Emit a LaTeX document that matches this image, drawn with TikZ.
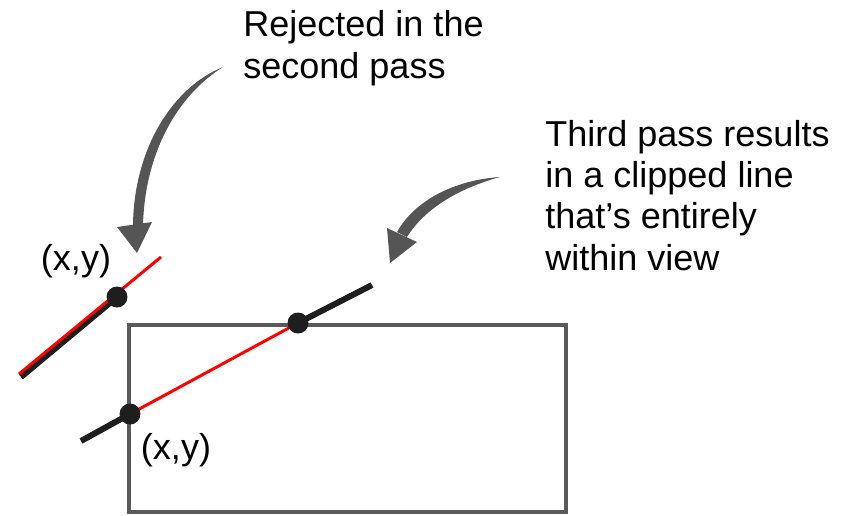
\documentclass[tikz,border=0pt]{standalone}
\usepackage{fontspec}
\setmainfont{Liberation Sans}
\usepackage{xcolor}
\definecolor{boxgray}{HTML}{5A5A5A}
\definecolor{arrowgray}{HTML}{555555}
\definecolor{dotblack}{HTML}{1E1E1E}
\definecolor{cliprd}{HTML}{FF0000}

\begin{document}
\begin{tikzpicture}[x=0.02cm,y=-0.02cm,
  note/.style={font=\fontsize{20.5}{23.5}\selectfont,inner sep=0pt,align=left,anchor=base west},
  ptlabel/.style={font=\fontsize{20.5}{23.5}\selectfont,inner sep=0pt,anchor=base},
  endpt/.style={circle,fill=dotblack,inner sep=0pt,minimum size=0.42cm},
  seg/.style={line width=0.12cm,dotblack},
  inside/.style={line width=0.06cm,cliprd}]
\useasboundingbox (0,0) rectangle (856,515);
% view window
\draw[boxgray,line width=0.07cm] (129,325) rectangle (566,512);
% line rejected in the second pass
\coordinate (ra) at (19,374);
\coordinate (rb) at (161,257);
\coordinate (r0) at (21,377);
\coordinate (rp) at (117,297);
\draw[seg] (r0) -- (rp);
\draw[inside] (ra) -- (rb);
% line clipped in the third pass
\coordinate (c0) at (81,441);
\coordinate (cp) at (130,414);
\coordinate (cq) at (298,323);
\coordinate (c1) at (372,285);
\draw[seg] (c0) -- (cp);
\draw[inside] (cp) -- (cq);
\draw[seg] (cq) -- (c1);
\node[endpt] (rdot) at (rp) {};
\node[endpt] (pdot) at (cp) {};
\node[endpt] (qdot) at (cq) {};
% texts
\node[note] (rejected) at (243,78) {Rejected in the\\second pass};
\node[note] (third) at (545,270) {Third pass results\\in a clipped line\\that’s entirely\\within view};
\node[ptlabel] (rlabel) at (76,270) {(x,y)};
\node[ptlabel] (plabel) at (176,459) {(x,y)};
% curved arrows
\fill[arrowgray] (223,67) .. controls (173,87) and (134,148) .. (133,225) -- (143,225) .. controls (145,152) and (178,95) .. (223,67) -- cycle;
\fill[arrowgray] (117,227) -- (152,222) -- (137,253) -- cycle;
\fill[arrowgray] (500,177) .. controls (455,180) and (415,200) .. (397,232) -- (407,237) .. controls (425,208) and (460,188) .. (500,177) -- cycle;
\fill[arrowgray] (387,228) -- (417,242) -- (390,263) -- cycle;
\end{tikzpicture}
\end{document}
